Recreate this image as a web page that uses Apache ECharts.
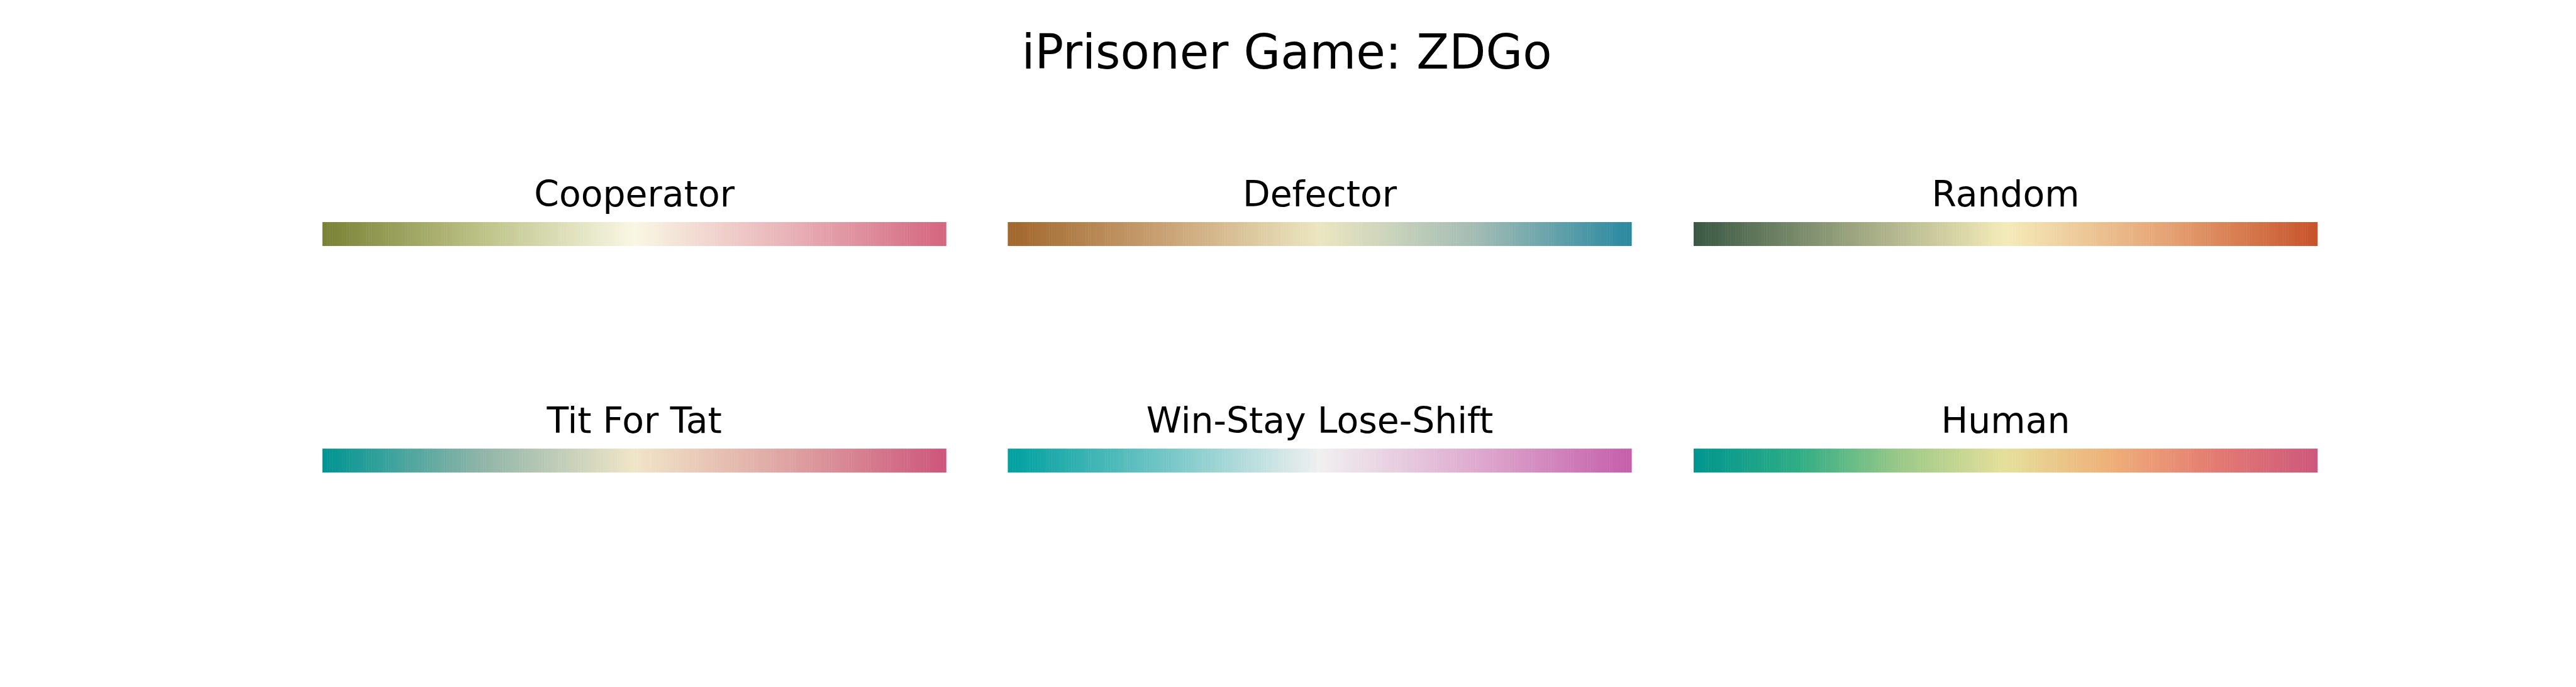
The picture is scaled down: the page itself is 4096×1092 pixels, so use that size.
<!DOCTYPE html>
<html>
<head>
<meta charset="utf-8">
<script src="https://cdn.jsdelivr.net/npm/echarts@6/dist/echarts.min.js"></script>
<style>html,body{margin:0;padding:0;background:#fff;}#chart{width:4096px;height:1092px;}</style>
</head>
<body>
<div id="chart"></div>
<script>
// ---- data ----
const chartTitle = 'iPrisoner Game: ZDGo';
const panelNames = ['Cooperator', 'Defector', 'Random', 'Tit For Tat', 'Win-Stay Lose-Shift', 'Human'];
const cooperatorColors = ['#7a8236', '#bcc186', '#f9f7e4', '#e8b2b8', '#d4667f'];
const defectorColors = ['#a1672c', '#c9a274', '#ebe6c1', '#a3bcb4', '#2a89a0'];
const randomColors = ['#3a5944', '#9aa37e', '#f4ebb9', '#e6a677', '#c8542c'];
const titForTatColors = ['#009593', '#8eb4a8', '#f0e5c7', '#dea3a2', '#cd567c'];
const wslsColors = ['#00a0a0', '#74c6c6', '#f0f0f0', '#deabcf', '#c55fab'];
const humanColors = ['#00968f', '#30ad85', '#9dc988', '#e5e09b', '#efb079', '#e47c72', '#cd587c'];
const colorbarSteps = 256;

// ---- layout (px in 4096x1092 window) ----
const S = 0.682;
const colLeft = [752, 2350, 3949].map(v => v * S);
const barW = 1454 * S;
const rowTop = [518 * S, 1046 * S];
const barH = 55 * S;
const titleFont = 111 * S;
const subFont = 83.3 * S;

const palettes = [cooperatorColors, defectorColors, randomColors, titForTatColors, wslsColors, humanColors];
const idx = Array.from({length: colorbarSteps}, (_, i) => i);

const grids = [], xAxes = [], yAxes = [], series = [], visualMaps = [], titles = [];
titles.push({
  text: chartTitle, left: 2046, top: 89.5 - titleFont / 2, padding: 0,
  textStyle: {fontFamily: 'DejaVu Sans', fontSize: titleFont, fontWeight: 'normal', color: '#000'}
});
panelNames.forEach((name, k) => {
  const c = k % 3, r = Math.floor(k / 3);
  grids.push({left: colLeft[c], top: rowTop[r], width: barW, height: barH, containLabel: false});
  xAxes.push({type: 'category', gridIndex: k, data: idx, show: false, boundaryGap: true});
  yAxes.push({type: 'category', gridIndex: k, data: ['0'], show: false});
  series.push({
    type: 'heatmap', xAxisIndex: k, yAxisIndex: k,
    data: idx.map(i => [i, 0, i]),
    itemStyle: {borderWidth: 0}, emphasis: {disabled: true}, progressive: 0
  });
  visualMaps.push({
    type: 'continuous', show: false, seriesIndex: k, min: 0, max: colorbarSteps - 1,
    inRange: {color: palettes[k]}
  });
  const mid = r === 0 ? 313.5 : 673.5;
  titles.push({
    text: name, left: colLeft[c] + barW / 2, top: mid - subFont / 2, padding: 0,
    textStyle: {fontFamily: 'DejaVu Sans', fontSize: subFont, fontWeight: 'normal', color: '#000'}
  });
});
titles.forEach(t => { t.textAlign = 'center'; });

const chart = echarts.init(document.getElementById('chart'), null, {renderer: 'canvas'});
chart.setOption({
  backgroundColor: '#fff',
  animation: false,
  title: titles,
  grid: grids, xAxis: xAxes, yAxis: yAxes,
  visualMap: visualMaps,
  series: series
});
</script>
</body>
</html>
